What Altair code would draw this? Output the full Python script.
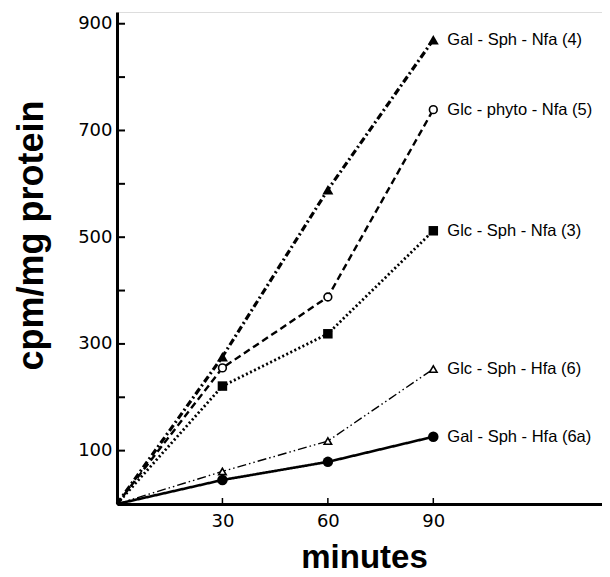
import altair as alt
import pandas as pd

minutes = [0, 30, 60, 90]
series_names = [
    "Gal - Sph - Nfa  (4)",
    "Glc - phyto - Nfa  (5)",
    "Glc - Sph - Nfa  (3)",
    "Glc - Sph - Hfa  (6)",
    "Gal - Sph - Hfa  (6a)",
]
gal_sph_nfa = [0, 276, 589, 870]
glc_phyto_nfa = [0, 255, 388, 739]
glc_sph_nfa = [0, 221, 319, 512]
glc_sph_hfa = [0, 61, 118, 253]
gal_sph_hfa = [0, 45, 79, 126]

y_label_values = [100, 300, 500, 700, 900]
y_tick_values = [100, 200, 300, 400, 500, 600, 700, 800, 900]
x_tick_values = [30, 60, 90]

series_values = [gal_sph_nfa, glc_phyto_nfa, glc_sph_nfa, glc_sph_hfa, gal_sph_hfa]

styles = {
    series_names[0]: dict(dash=[7, 3, 2, 3], width=3.2, shape="triangle-up", filled=True, size=120),
    series_names[1]: dict(dash=[7, 4], width=2.4, shape="circle", filled=False, size=60),
    series_names[2]: dict(dash=[2, 2.5], width=2.8, shape="square", filled=True, size=90),
    series_names[3]: dict(dash=[9, 3, 1.5, 3, 1.5, 3], width=1.4, shape="triangle-up", filled=False, size=55),
    series_names[4]: dict(dash=[1, 0], width=2.6, shape="circle", filled=True, size=110),
}

rows = []
for name, vals in zip(series_names, series_values):
    for m, v in zip(minutes, vals):
        rows.append({"series": name, "minutes": m, "cpm": v})
df = pd.DataFrame(rows)

xscale = alt.Scale(domain=[0, 138], nice=False, zero=True)
yscale = alt.Scale(domain=[0, 922], nice=False, zero=True)

x_axis = alt.Axis(
    values=x_tick_values, ticks=False, grid=False, domainWidth=3, domainColor="black",
    labelFont="DejaVu Sans", labelFontSize=18, labelColor="black", labelPadding=8,
    title="minutes", titleFont="Liberation Sans", titleFontSize=33, titleFontWeight="bold",
    titleColor="black", titleX=247, titleY=63, titleBaseline="alphabetic", titleAlign="center",
)
y_axis = alt.Axis(
    values=y_label_values, ticks=False, grid=False, domainWidth=3, domainColor="black",
    labelFont="DejaVu Sans", labelFontSize=18, labelColor="black", labelPadding=5,
    title="cpm/mg protein", titleFont="Liberation Sans", titleFontSize=36, titleFontWeight="bold",
    titleColor="black", titleAngle=-90, titleX=-86, titleY=223, titleBaseline="middle", titleAlign="center",
)

layers = []
base_axes = alt.Chart(df).mark_point(opacity=0).encode(
    x=alt.X("minutes:Q", scale=xscale, axis=x_axis),
    y=alt.Y("cpm:Q", scale=yscale, axis=y_axis),
)
layers.append(base_axes)

for name in series_names:
    st = styles[name]
    sub = df[df["series"] == name]
    line = alt.Chart(sub).mark_line(
        color="black", strokeWidth=st["width"], strokeDash=st["dash"]
    ).encode(
        x=alt.X("minutes:Q", scale=xscale),
        y=alt.Y("cpm:Q", scale=yscale),
    )
    pts = alt.Chart(sub[sub["minutes"] > 0]).mark_point(
        shape=st["shape"], filled=st["filled"], size=st["size"], color="black",
        fill="black" if st["filled"] else "white", strokeWidth=1.6, opacity=1,
    ).encode(
        x=alt.X("minutes:Q", scale=xscale),
        y=alt.Y("cpm:Q", scale=yscale),
    )
    layers += [line, pts]

last = df[df["minutes"] == 90]
labels = alt.Chart(last).mark_text(
    align="left", baseline="middle", dx=14, font="Liberation Sans", fontSize=16.5, color="black"
).encode(
    x=alt.X("minutes:Q", scale=xscale),
    y=alt.Y("cpm:Q", scale=yscale),
    text="series:N",
)
layers.append(labels)

ytick_df = pd.DataFrame({"v": y_tick_values})
yticks = alt.Chart(ytick_df).mark_rule(color="black", strokeWidth=2).encode(
    y=alt.Y("v:Q", scale=yscale), x=alt.value(0), x2=alt.value(8)
)
xtick_df = pd.DataFrame({"v": x_tick_values})
xticks = alt.Chart(xtick_df).mark_rule(color="black", strokeWidth=1.5).encode(
    x=alt.X("v:Q", scale=xscale), y=alt.value(492), y2=alt.value(486)
)
layers += [yticks, xticks]

chart = alt.layer(*layers).properties(
    width=485, height=492,
    autosize=alt.AutoSizeParams(type="none"),
    padding={"left": 109, "top": 4, "right": 0, "bottom": 72},
).configure_view(stroke=None).configure(background="white")

chart.save("out.html", embed_options={"renderer": "svg", "actions": False})
